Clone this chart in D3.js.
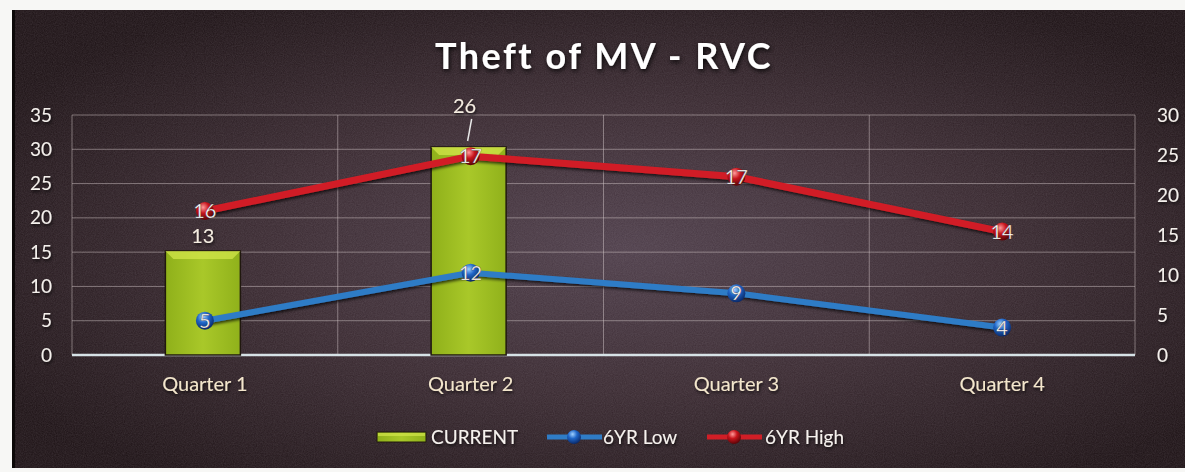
<!DOCTYPE html>
<html>
<head>
<meta charset="utf-8">
<script src="https://cdn.jsdelivr.net/npm/d3@7"></script>
<style>
  body { margin: 0; background: #f7f7f5; }
  svg { display: block; }
</style>
</head>
<body>
<script>
// data
var quarters = ["Quarter 1", "Quarter 2", "Quarter 3", "Quarter 4"];
var current = [13, 26, null, null];
var low6yr = [5, 12, 9, 4];
var high6yr = [16, 17, 17, 14];
var leftTicks = [0, 5, 10, 15, 20, 25, 30, 35];
var rightTicks = [0, 5, 10, 15, 20, 25, 30];

var W = 1185, H = 472;
var plot = {left: 72, right: 1135, top: 115, bottom: 355};

var svg = d3.select("body").append("svg")
    .attr("width", W)
    .attr("height", H);

var defs = svg.append("defs");

// background gradient
var bg = defs.append("radialGradient").attr("id", "bg")
    .attr("cx", "52%").attr("cy", "52%").attr("r", "62%");
bg.append("stop").attr("offset", "0%").attr("stop-color", "#4e3e4a");
bg.append("stop").attr("offset", "50%").attr("stop-color", "#392930");
bg.append("stop").attr("offset", "100%").attr("stop-color", "#1c1114");

// grain
var grain = defs.append("filter").attr("id", "grain")
    .attr("x", 0).attr("y", 0).attr("width", "100%").attr("height", "100%");
grain.append("feTurbulence").attr("type", "fractalNoise")
    .attr("baseFrequency", 0.9).attr("numOctaves", 2).attr("result", "n");
grain.append("feColorMatrix").attr("type", "matrix")
    .attr("values", "0 0 0 0 0.5  0 0 0 0 0.45  0 0 0 0 0.5  0 0 0 0.18 0");

// bar gradient
var barG = defs.append("linearGradient").attr("id", "barG")
    .attr("x1", "0%").attr("x2", "100%");
barG.append("stop").attr("offset", "0%").attr("stop-color", "#8fb01a");
barG.append("stop").attr("offset", "50%").attr("stop-color", "#a9c829");
barG.append("stop").attr("offset", "100%").attr("stop-color", "#90b11b");

// marker gradients
function ball(id, light, mid, dark) {
    var g = defs.append("radialGradient").attr("id", id)
        .attr("cx", "40%").attr("cy", "30%").attr("r", "70%");
    g.append("stop").attr("offset", "0%").attr("stop-color", light);
    g.append("stop").attr("offset", "45%").attr("stop-color", mid);
    g.append("stop").attr("offset", "100%").attr("stop-color", dark);
}
ball("ballBlue", "#9fd0ff", "#1f66c8", "#0b2a6a");
ball("ballRed", "#ff9a9a", "#c8141c", "#5a0508");

var shadow = defs.append("filter").attr("id", "shadow")
    .attr("x", "-20%").attr("y", "-50%").attr("width", "140%").attr("height", "200%");
shadow.append("feDropShadow").attr("dx", 1).attr("dy", 2)
    .attr("stdDeviation", 1.5).attr("flood-color", "#000").attr("flood-opacity", 0.7);

var glow = defs.append("filter").attr("id", "glow")
    .attr("x", "-10%").attr("y", "-40%").attr("width", "120%").attr("height", "180%");
glow.append("feDropShadow").attr("dx", 1).attr("dy", 2)
    .attr("stdDeviation", 2.5).attr("flood-color", "#000").attr("flood-opacity", 0.9);

// background panel
svg.append("rect").attr("x", 12).attr("y", 10)
    .attr("width", W - 12).attr("height", 458)
    .attr("fill", "url(#bg)");
svg.append("rect").attr("x", 12).attr("y", 10)
    .attr("width", W - 12).attr("height", 458)
    .attr("filter", "url(#grain)");
svg.append("rect").attr("x", 12).attr("y", 10)
    .attr("width", 3).attr("height", 458).attr("fill", "#0c0808");

// scales
var x = d3.scaleBand()
    .domain(quarters)
    .range([plot.left, plot.right]);

var yLeft = d3.scaleLinear()
    .domain([0, 35])
    .range([plot.bottom, plot.top]);

var yRight = d3.scaleLinear()
    .domain([0, 30])
    .range([plot.bottom, plot.top]);

// gridlines
svg.append("g").selectAll("line")
    .data(leftTicks)
    .enter().append("line")
    .attr("x1", plot.left).attr("x2", plot.right)
    .attr("y1", function(d) { return yLeft(d); })
    .attr("y2", function(d) { return yLeft(d); })
    .attr("stroke", "#cfc3c6").attr("stroke-opacity", 0.5).attr("stroke-width", 1);

var bounds = quarters.map(function(q) { return x(q); }).concat([plot.right]);
svg.append("g").selectAll("line")
    .data(bounds)
    .enter().append("line")
    .attr("x1", function(d) { return d; }).attr("x2", function(d) { return d; })
    .attr("y1", plot.top).attr("y2", plot.bottom)
    .attr("stroke", "#cfc3c6").attr("stroke-opacity", 0.5).attr("stroke-width", 1);

// axes
var tickFont = "Lato, 'Open Sans', sans-serif";

var leftAxis = svg.append("g")
    .attr("transform", "translate(" + plot.left + ",0)")
    .call(d3.axisLeft(yLeft).tickValues(leftTicks).tickSize(0).tickPadding(20));
var rightAxis = svg.append("g")
    .attr("transform", "translate(" + plot.right + ",0)")
    .call(d3.axisRight(yRight).tickValues(rightTicks).tickSize(0).tickPadding(22));
var bottomAxis = svg.append("g")
    .attr("transform", "translate(0," + plot.bottom + ")")
    .call(d3.axisBottom(x).tickSize(0).tickPadding(22));

[leftAxis, rightAxis, bottomAxis].forEach(function(a) {
    a.select(".domain").remove();
    a.selectAll("text")
        .attr("font-family", tickFont)
        .attr("font-size", 19)
        .attr("fill", "#f4f0ec")
        .attr("filter", "url(#shadow)");
});
bottomAxis.selectAll("text").attr("fill", "#f3e6cc").attr("font-size", 20);

svg.append("line")
    .attr("x1", plot.left).attr("x2", plot.right)
    .attr("y1", plot.bottom).attr("y2", plot.bottom)
    .attr("stroke", "#d6e2e6").attr("stroke-width", 2.5);

// bars (right axis)
var barW = 75;
var barData = quarters.map(function(q, i) { return {q: q, v: current[i]}; })
    .filter(function(d) { return d.v != null; });

var bars = svg.append("g").selectAll("g")
    .data(barData)
    .enter().append("g");

bars.append("rect")
    .attr("x", function(d) { return x(d.q) + x.bandwidth() / 2 - barW / 2 - 2; })
    .attr("y", function(d) { return yRight(d.v); })
    .attr("width", barW)
    .attr("height", function(d) { return plot.bottom - yRight(d.v); })
    .attr("fill", "url(#barG)")
    .attr("stroke", "#20180e").attr("stroke-width", 1.5);

// bevel on the top edge
bars.append("path")
    .attr("d", function(d) {
        var x0 = x(d.q) + x.bandwidth() / 2 - barW / 2 - 2, y0 = yRight(d.v);
        return "M" + x0 + "," + y0 + "h" + barW + "l-8,8h" + (-(barW - 16)) + "z";
    })
    .attr("fill", "#d2e64a").attr("opacity", 0.75);

// bar value labels
var labelFont = "Lato, 'Open Sans', sans-serif";
bars.append("text")
    .attr("x", function(d, i) { return x(d.q) + x.bandwidth() / 2 - 2 + (i === 1 ? -4 : 0); })
    .attr("y", function(d, i) { return yRight(d.v) - (i === 1 ? 34 : 8); })
    .attr("text-anchor", "middle")
    .attr("font-family", labelFont).attr("font-size", 20)
    .attr("fill", "#f4ece0")
    .attr("filter", "url(#shadow)")
    .text(function(d) { return d.v; });

// leader line for the tall bar label
bars.filter(function(d, i) { return i === 1; })
    .append("line")
    .attr("x1", function(d) { return x(d.q) + x.bandwidth() / 2 + 1; })
    .attr("y1", function(d) { return yRight(d.v) - 28; })
    .attr("x2", function(d) { return x(d.q) + x.bandwidth() / 2 - 3; })
    .attr("y2", function(d) { return yRight(d.v) - 6; })
    .attr("stroke", "#e8e8e8").attr("stroke-width", 1.5);

// lines (left axis, stacked)
var lowPts = quarters.map(function(q, i) {
    return {x: x(q) + x.bandwidth() / 2, y: yLeft(low6yr[i]), v: low6yr[i]};
});
var highPts = quarters.map(function(q, i) {
    return {x: x(q) + x.bandwidth() / 2, y: yLeft(low6yr[i] + high6yr[i]), v: high6yr[i]};
});

var line = d3.line()
    .x(function(d) { return d.x; })
    .y(function(d) { return d.y; });

function drawSeries(pts, color, width, ballId) {
    var g = svg.append("g");
    g.append("path")
        .datum(pts)
        .attr("d", line)
        .attr("fill", "none")
        .attr("stroke", color)
        .attr("stroke-width", width)
        .attr("stroke-linejoin", "round")
        .attr("filter", "url(#shadow)");
    g.selectAll("circle")
        .data(pts)
        .enter().append("circle")
        .attr("cx", function(d) { return d.x; })
        .attr("cy", function(d) { return d.y; })
        .attr("r", 9)
        .attr("fill", "url(#" + ballId + ")");
    g.selectAll("text")
        .data(pts)
        .enter().append("text")
        .attr("x", function(d) { return d.x; })
        .attr("y", function(d) { return d.y + 7; })
        .attr("text-anchor", "middle")
        .attr("font-family", labelFont).attr("font-size", 20)
        .attr("fill", "#ffffff")
        .attr("stroke", "rgba(40,20,20,0.5)").attr("stroke-width", 0.6)
        .text(function(d) { return d.v; });
}

drawSeries(lowPts, "#2f7cc6", 6, "ballBlue");
drawSeries(highPts, "#d11e26", 7, "ballRed");

// title
svg.append("text")
    .attr("x", 604).attr("y", 69)
    .attr("text-anchor", "middle")
    .attr("font-family", "Lato, 'Open Sans', sans-serif")
    .attr("font-weight", "bold")
    .attr("font-size", 36)
    .attr("letter-spacing", 2.5)
    .attr("fill", "#ffffff")
    .attr("filter", "url(#glow)")
    .text("Theft of MV - RVC");

// legend
var legend = svg.append("g").attr("transform", "translate(0,437)");
legend.append("rect")
    .attr("x", 377).attr("y", -5).attr("width", 49).attr("height", 10)
    .attr("fill", "url(#barG)").attr("stroke", "#20180e").attr("stroke-width", 1);
legend.append("rect")
    .attr("x", 378).attr("y", -4).attr("width", 47).attr("height", 3)
    .attr("fill", "#d2e64a").attr("opacity", 0.7);

var legItems = [
    {label: "CURRENT", x: 431},
    {label: "6YR Low", x: 603, color: "#2f7cc6", ball: "ballBlue", lx: 547},
    {label: "6YR High", x: 765, color: "#d11e26", ball: "ballRed", lx: 707}
];
legItems.forEach(function(d) {
    if (d.color) {
        legend.append("line")
            .attr("x1", d.lx).attr("x2", d.lx + 55)
            .attr("y1", 0).attr("y2", 0)
            .attr("stroke", d.color).attr("stroke-width", 5);
        legend.append("circle")
            .attr("cx", d.lx + 27).attr("cy", 0).attr("r", 7)
            .attr("fill", "url(#" + d.ball + ")");
    }
    legend.append("text")
        .attr("x", d.x).attr("y", 7)
        .attr("font-family", labelFont).attr("font-size", 19)
        .attr("fill", "#f6f2ee")
        .attr("filter", "url(#shadow)")
        .text(d.label);
});
</script>
</body>
</html>
